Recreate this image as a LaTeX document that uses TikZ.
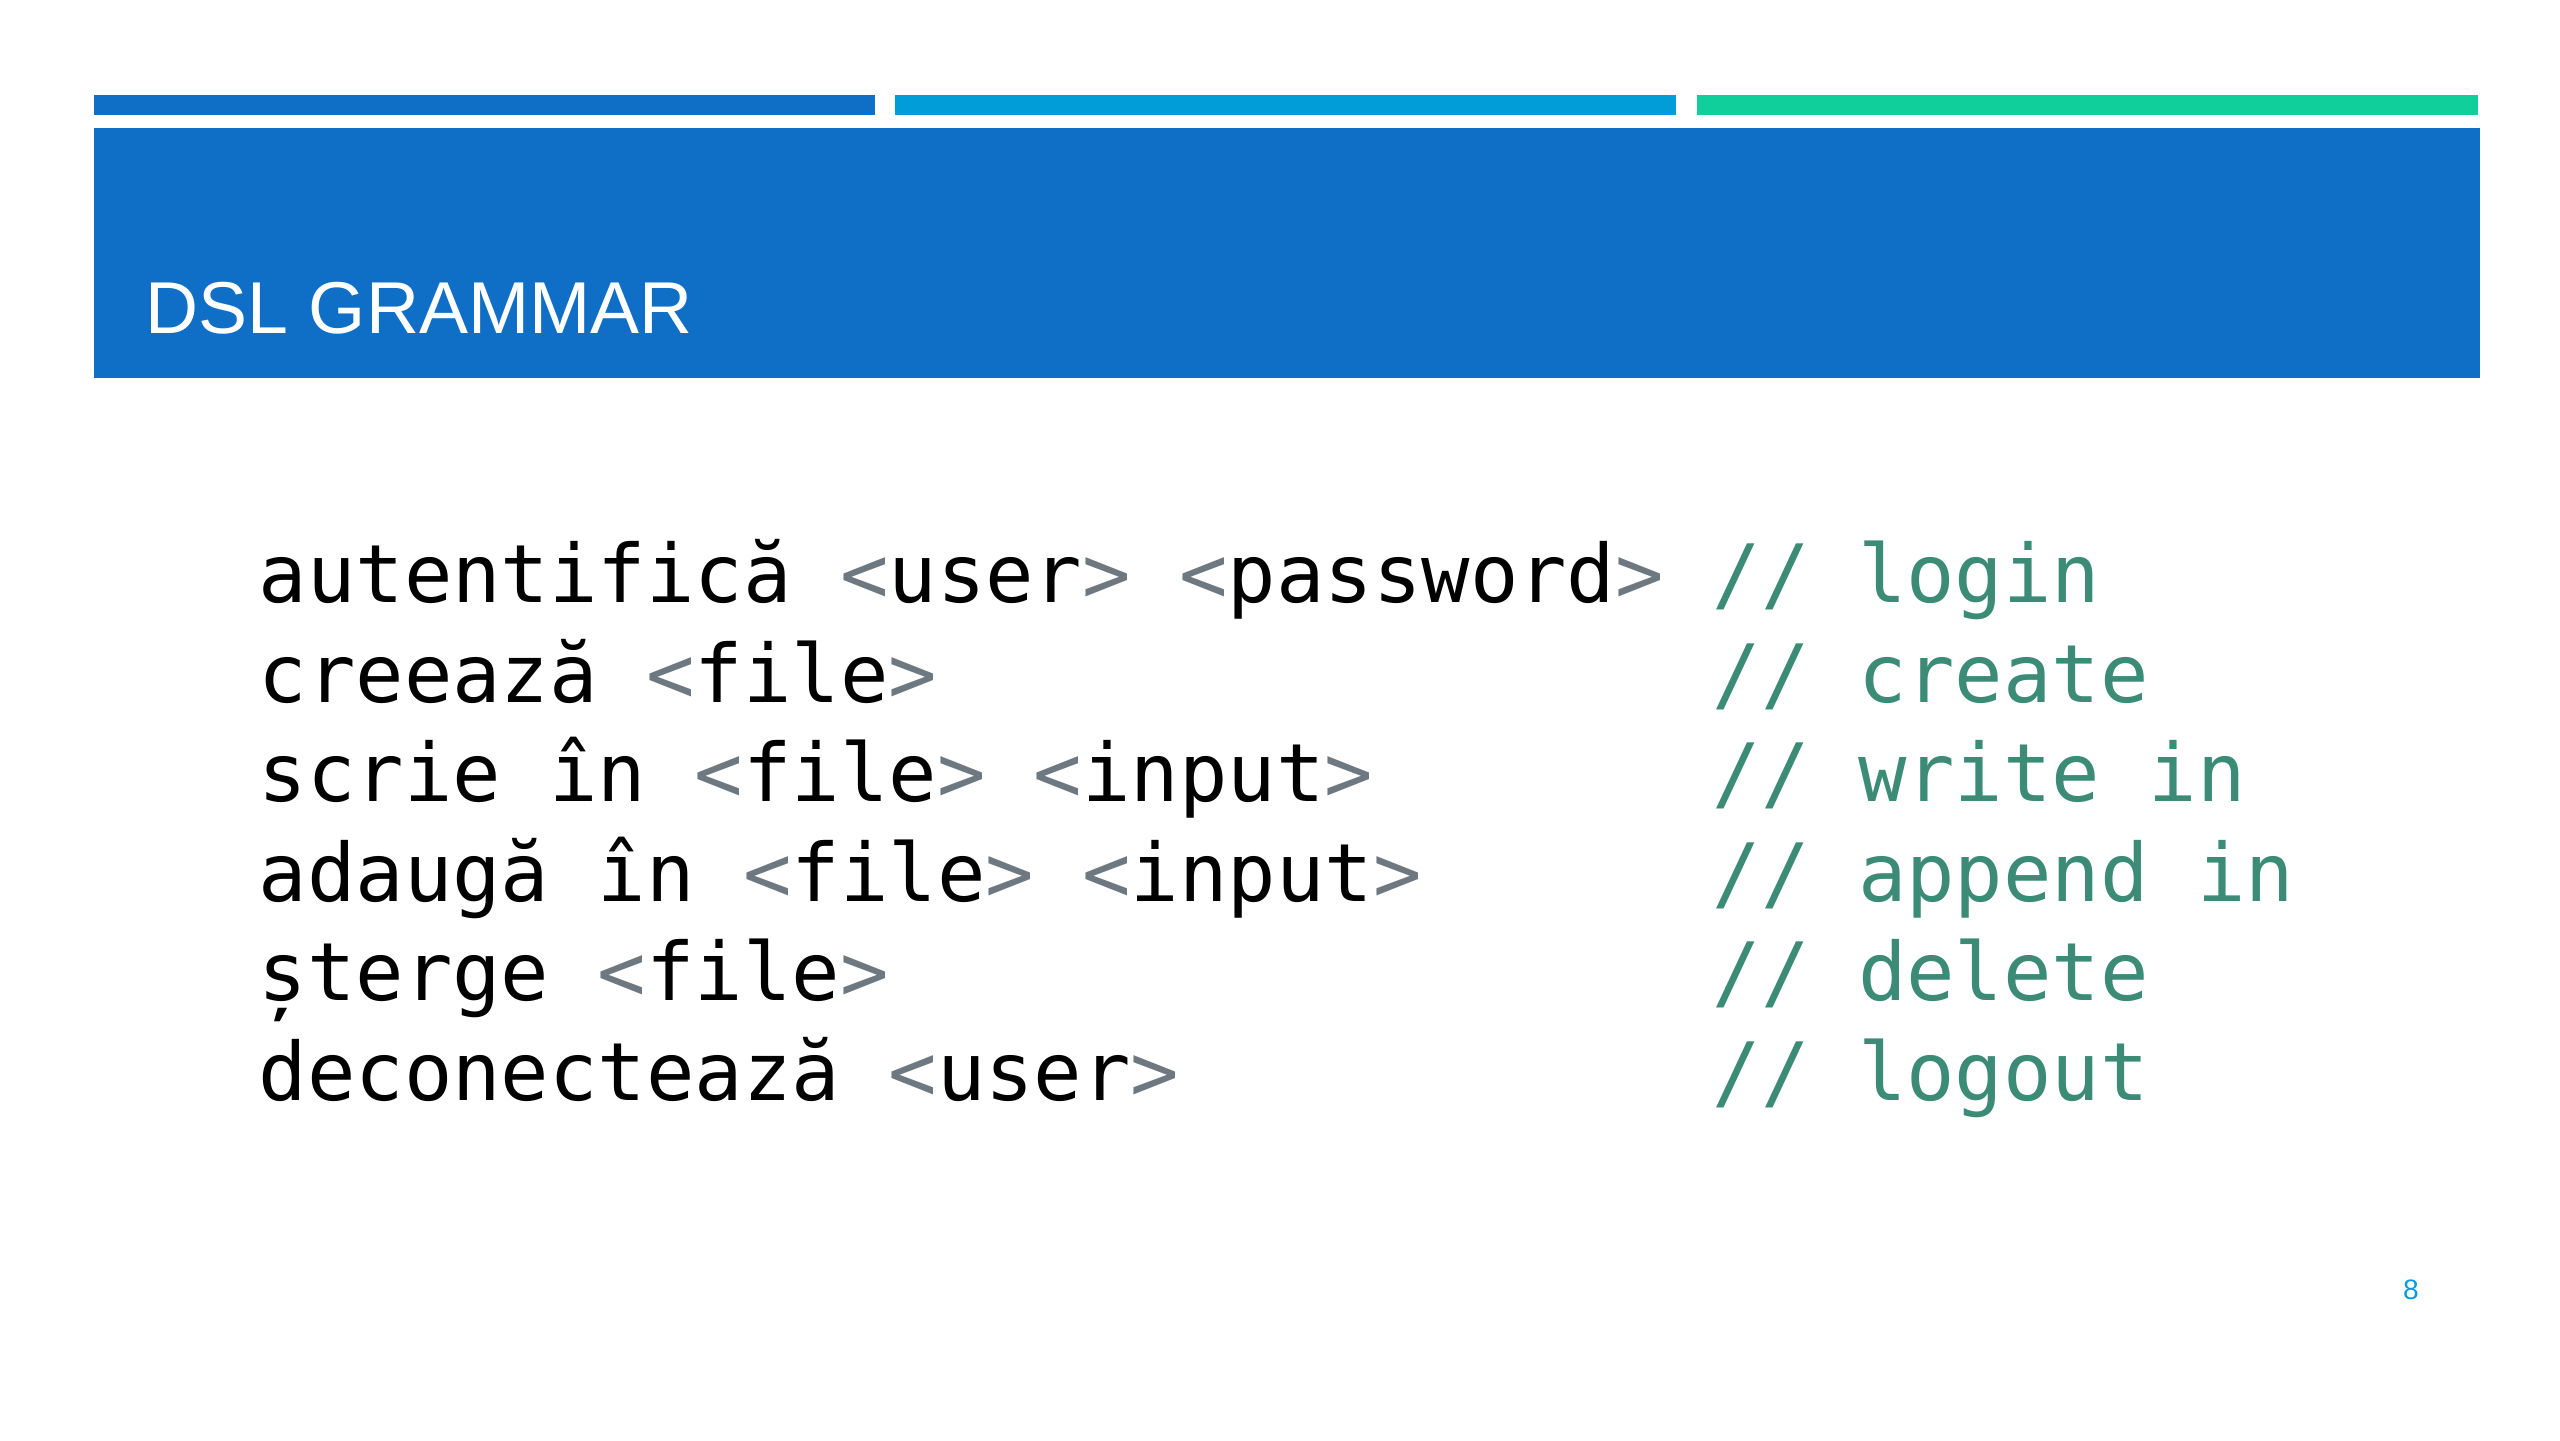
\documentclass[tikz,border=0pt]{standalone}
\usepackage{fontspec}
\setmainfont{Liberation Sans}
\newfontfamily\codefont{DejaVu Sans Mono}
\definecolor{accentA}{HTML}{0F6FC6}
\definecolor{accentB}{HTML}{009DD9}
\definecolor{accentC}{HTML}{10CF9B}
\definecolor{commentgreen}{HTML}{3B8B76}
\definecolor{bracketgray}{HTML}{6E7880}
\newcommand{\tagarg}[1]{{\color{bracketgray}<}#1{\color{bracketgray}>}}

\begin{document}
\begin{tikzpicture}[
                    title_style/.style={anchor=base west, inner sep=0, text=white, font=\fontsize{20.9}{25}\selectfont},
                    code_style/.style={anchor=base west, inner sep=0, text=black, font=\codefont\fontsize{22.9}{27}\selectfont},
                    comment_style/.style={code_style, text=commentgreen},
                    num_style/.style={inner sep=0, text=accentB, font=\fontsize{8}{9}\selectfont}
   ]
   \useasboundingbox (0,0) rectangle (25.6,14.4);
   % Top bars
   \fill[accentA] (0.935,13.45) rectangle (8.745,13.25);
   \fill[accentB] (8.945,13.45) rectangle (16.755,13.25);
   \fill[accentC] (16.965,13.45) rectangle (24.78,13.25);
   % Header
   \fill[accentA] (0.935,13.12) rectangle (24.80,10.62);
   \node[title_style] (title) at (1.45,11.06) {DSL GRAMMAR};

   % Grammar
   \node[code_style] (login) at (2.58,8.37) {autentifică \tagarg{user} \tagarg{password}};
   \node[code_style] (create) at (2.58,7.375) {creează \tagarg{file}};
   \node[code_style] (write) at (2.58,6.38) {scrie în \tagarg{file} \tagarg{input}};
   \node[code_style] (append) at (2.58,5.385) {adaugă în \tagarg{file} \tagarg{input}};
   \node[code_style] (delete) at (2.58,4.39) {șterge \tagarg{file}};
   \node[code_style] (logout) at (2.58,3.395) {deconectează \tagarg{user}};
   % Comments
   \node[comment_style] (c_login) at (17.12,8.37) {// login};
   \node[comment_style] (c_create) at (17.12,7.375) {// create};
   \node[comment_style] (c_write) at (17.12,6.38) {// write in};
   \node[comment_style] (c_append) at (17.12,5.385) {// append in};
   \node[comment_style] (c_delete) at (17.12,4.39) {// delete};
   \node[comment_style] (c_logout) at (17.12,3.395) {// logout};

   \node[num_style] (page) at (24.11,1.50) {8};
\end{tikzpicture}
\end{document}
